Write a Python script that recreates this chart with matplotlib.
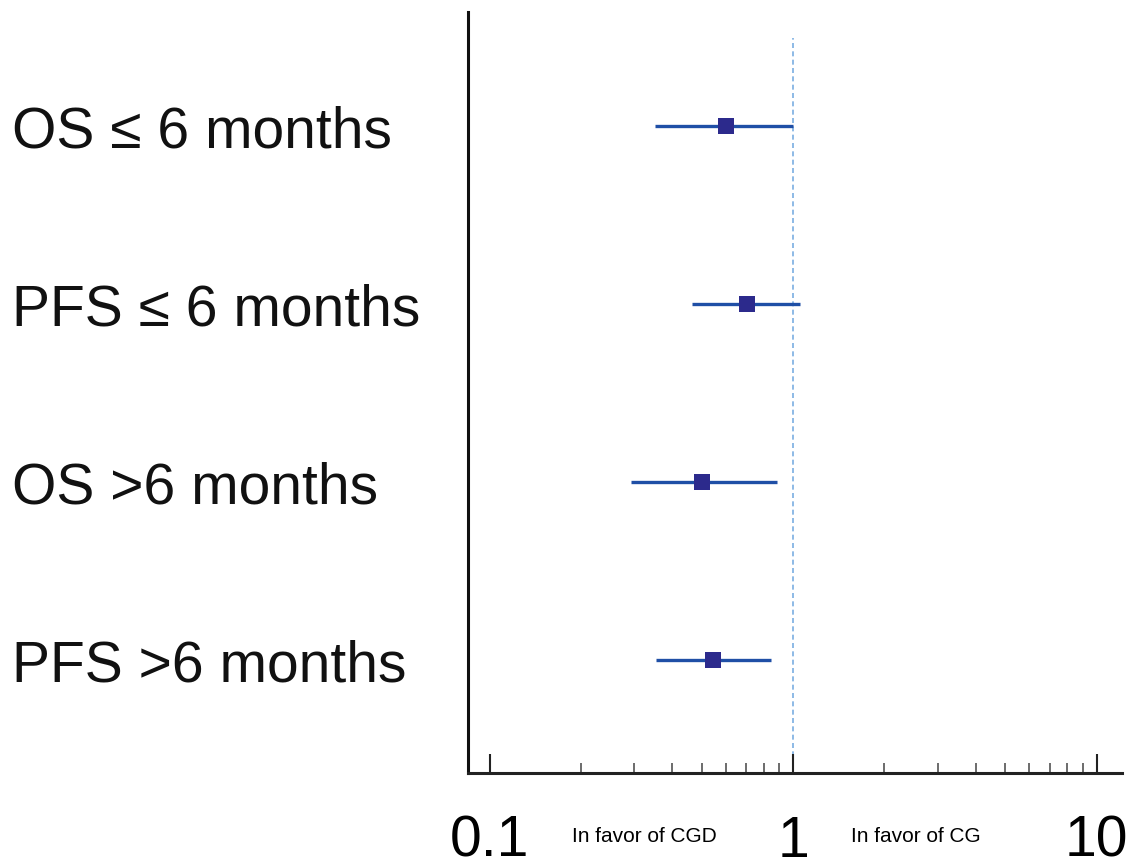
import matplotlib
matplotlib.use('Agg')
import matplotlib.pyplot as plt
from matplotlib.ticker import FixedLocator, NullFormatter
from matplotlib.transforms import blended_transform_factory

plt.rcParams['font.family'] = ['Liberation Sans', 'DejaVu Sans']

labels = ['OS ≤ 6 months', 'PFS ≤ 6 months', 'OS >6 months', 'PFS >6 months']
hr = [0.60, 0.705, 0.50, 0.545]
ci_low = [0.351, 0.466, 0.293, 0.353]
ci_high = [1.00, 1.054, 0.884, 0.846]

tick_vals = [0.1, 1, 10]
tick_labels = ['0.1', '1', '10']
minor_vals = [0.2, 0.3, 0.4, 0.5, 0.6, 0.7, 0.8, 0.9, 2, 3, 4, 5, 6, 7, 8, 9]

fig = plt.figure(figsize=(11.33, 8.67), dpi=100)
ax = fig.add_axes([0.4131, 0.1084, 0.5772, 0.8777])

ypos = [3, 2, 1, 0]

# reference line at HR = 1
ax.vlines(1, -0.635, 3.494, colors='#7aaee2', linestyles=(0, (3, 2)), linewidth=1.2, zorder=1)

for i in range(len(labels)):
    ax.plot([ci_low[i], ci_high[i]], [ypos[i], ypos[i]], color='#1f4fa6', linewidth=2.4,
            solid_capstyle='butt', zorder=2)
    ax.plot(hr[i], ypos[i], marker='s', markersize=12, markeredgewidth=0,
            color='#2c2a8c', zorder=3)

ax.set_xscale('log')
ax.set_xlim(0.0849, 12.13)
ax.set_ylim(-0.635, 3.64)

ax.spines['top'].set_visible(False)
ax.spines['right'].set_visible(False)
ax.spines['left'].set_linewidth(2.2)
ax.spines['bottom'].set_linewidth(2.2)
ax.spines['left'].set_color('#111111')
ax.spines['bottom'].set_color('#222222')

ax.set_yticks([])
ax.set_xticks(tick_vals)
ax.set_xticklabels(tick_labels)
ax.xaxis.set_minor_locator(FixedLocator(minor_vals))
ax.xaxis.set_minor_formatter(NullFormatter())
ax.tick_params(axis='x', which='major', direction='in', length=13.7, width=1.5,
               color='#222222', labelsize=41, pad=30)
ax.tick_params(axis='x', which='minor', direction='in', length=7, width=1.1, color='#444444')

trans = blended_transform_factory(fig.transFigure, ax.transData)
for i in range(len(labels)):
    ax.text(12 / 1133, ypos[i] - 0.035, labels[i], transform=trans, ha='left', va='center',
            fontsize=41, color='#111111')

fig.text(644 / 1133, 1 - 836 / 867, 'In favor of CGD', ha='center', va='center', fontsize=15)
fig.text(916 / 1133, 1 - 836 / 867, 'In favor of CG', ha='center', va='center', fontsize=15)

fig.savefig('out.png', dpi=100)
